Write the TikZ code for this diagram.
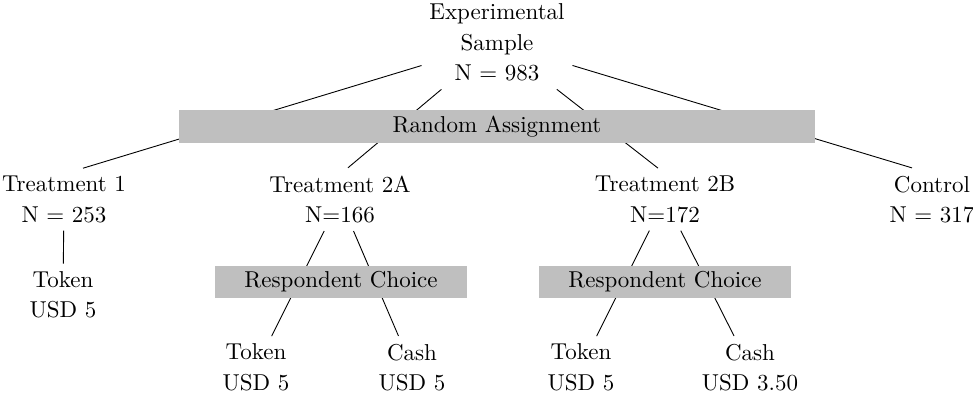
\documentclass[tikz,border=0pt]{standalone}
\usetikzlibrary{shapes,arrows}
\begin{document}
\begin{tikzpicture}[x=0.446pt,y=-0.446pt,
					txt/.style={align=center, font=\fontsize{10.25}{13.6}\selectfont},
					greybar/.style={fill=gray!50, inner sep=0pt, minimum height=14.5pt, font=\fontsize{10.25}{13.6}\selectfont}]
    \useasboundingbox (0,0) rectangle (973,396);
    % Place nodes
    \node [txt] (S) at (497,42.7){Experimental\\Sample\\N = 983};
    \node [txt] (T1) at (64,199.4){Treatment 1\\N = 253};
    \node [txt] (T2A) at (340,199.4){Treatment 2A\\N=166};
    \node [txt] (T2B) at (665,199.4){Treatment 2B\\N=172};
    \node [txt] (C) at (932,199.4){Control\\N = 317};
    \node [txt] (K1) at (63,295){Token\\USD 5};
    \node [txt] (KA) at (256,367.5){Token\\USD 5};
    \node [txt] (CA) at (412,367.5){Cash\\USD 5};
    \node [txt] (KB) at (581,367.5){Token\\USD 5};
    \node [txt] (CB) at (750,367.5){Cash\\USD 3.50};
    % Draw edges
    \draw (S) -- ([shift={(19,0)}]T1.north);
    \draw (S) -- ([shift={(8,0)}]T2A.north);
    \draw (S) -- ([shift={(-7,0)}]T2B.north);
    \draw (S) -- ([shift={(-20,0)}]C.north);
    \draw (T1) -- (K1);
    \draw (T2A) -- (KA);
    \draw (T2A) -- (CA);
    \draw (T2B) -- (KB);
    \draw (T2B) -- (CB);
    % Bars over the edges
    \node [greybar, minimum width=283.7pt, minimum height=14.7pt] (RA) at (497,126.5){Random Assignment};
    \node [greybar, minimum width=112.4pt, minimum height=14.3pt] (RC1) at (341,282){Respondent Choice};
    \node [greybar, minimum width=112.4pt, minimum height=14.3pt] (RC2) at (665,282){Respondent Choice};
\end{tikzpicture}
\end{document}
